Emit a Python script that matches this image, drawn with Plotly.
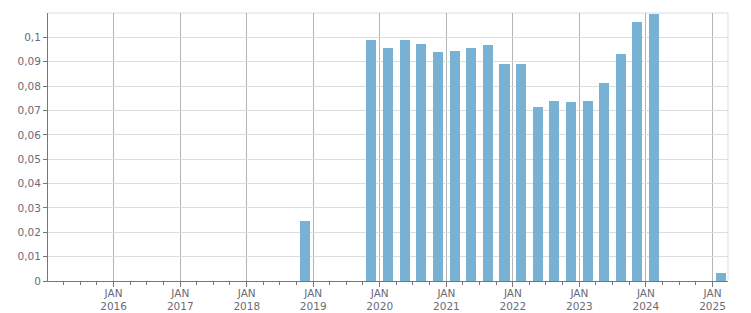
import plotly.graph_objects as go

# Quarter start dates and values
quarters = ["2018-10-01", "2019-10-01",
            "2020-01-01", "2020-04-01", "2020-07-01", "2020-10-01",
            "2021-01-01", "2021-04-01", "2021-07-01", "2021-10-01",
            "2022-01-01", "2022-04-01", "2022-07-01", "2022-10-01",
            "2023-01-01", "2023-04-01", "2023-07-01", "2023-10-01",
            "2024-01-01", "2025-01-01"]
values = [0.0246, 0.0989,
          0.0956, 0.0989, 0.0972, 0.0939,
          0.0943, 0.0956, 0.0968, 0.0889,
          0.0889, 0.0714, 0.0738, 0.0734,
          0.0738, 0.0814, 0.0930, 0.1063,
          0.1096, 0.0032]

years = list(range(2016, 2026))
x_tickvals = [f"{y}-01-01" for y in years]
x_ticktext = [f"JAN<br>{y}" for y in years]

y_tickvals = [0, 0.01, 0.02, 0.03, 0.04, 0.05, 0.06, 0.07, 0.08, 0.09, 0.1]
y_ticktext = ["0", "0,01", "0,02", "0,03", "0,04", "0,05", "0,06", "0,07", "0,08", "0,09", "0,1"]

BAR = "#77b1d4"
FONT = dict(family="DejaVu Sans", size=10.5, color="#6b6b78")
DAY_MS = 86400000

fig = go.Figure(go.Bar(
    x=quarters, y=values,
    xperiod="M3", xperiodalignment="middle",
    width=55 * DAY_MS,
    marker=dict(color=BAR, line=dict(width=0)),
    hoverinfo="x+y",
))

fig.update_layout(
    width=751, height=313,
    margin=dict(l=48, r=23, t=13, b=32),
    paper_bgcolor="white", plot_bgcolor="white",
    font=FONT,
    showlegend=False,
    bargap=0,
)

fig.update_xaxes(
    type="date",
    automargin=False,
    range=["2015-01-06", "2025-03-27"],
    tickvals=x_tickvals, ticktext=x_ticktext,
    tickangle=0,
    ticklabelstandoff=-3,
    showgrid=True, gridcolor="#b5b5b5", gridwidth=1,
    showline=True, linecolor="#777777", linewidth=1,
    ticks="outside", ticklen=5, tickcolor="#777777",
    minor=dict(ticks="outside", ticklen=3, tickcolor="#777777",
               dtick="M3", tick0="2015-01-01", showgrid=False),
    zeroline=False,
    fixedrange=True,
)

fig.update_yaxes(
    automargin=False,
    range=[0, 0.11],
    tickvals=y_tickvals, ticktext=y_ticktext,
    showgrid=True, gridcolor="#dddddd", gridwidth=1,
    showline=True, linecolor="#777777", linewidth=1,
    ticks="outside", ticklen=4, tickcolor="#777777",
    zeroline=False,
    fixedrange=True,
)

# top and right border lines in gridline colour
fig.add_shape(type="line", xref="paper", yref="paper", x0=0, x1=1, y0=1, y1=1,
              line=dict(color="#dddddd", width=1), layer="below")
fig.add_shape(type="line", xref="paper", yref="paper", x0=1, x1=1, y0=0, y1=1,
              line=dict(color="#dddddd", width=1), layer="below")

fig.write_html("out.html")
